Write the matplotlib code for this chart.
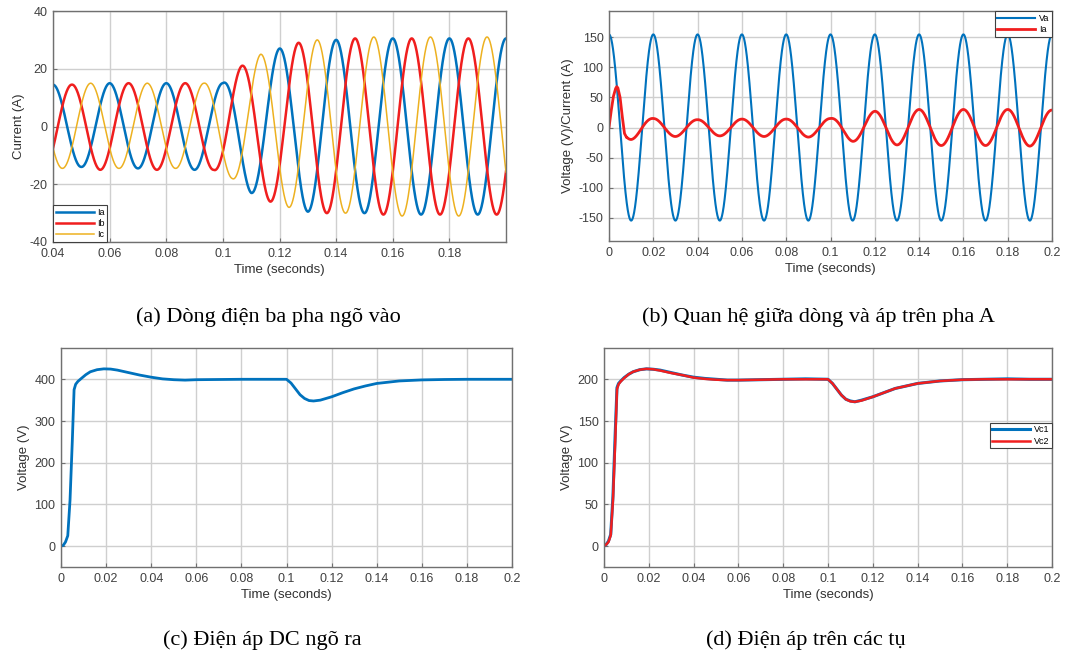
import numpy as np
import matplotlib
matplotlib.use("Agg")
import matplotlib.pyplot as plt

F = 50.0  # grid frequency (Hz)

# (a) three phase input currents: half-cycle peak values
ia_peak_t = [0.04, 0.05, 0.06, 0.07, 0.08, 0.09, 0.10, 0.11, 0.12, 0.13, 0.14, 0.15, 0.16, 0.17, 0.18, 0.19, 0.20]
ia_peak_v = [14.5, -14, 15, -14.5, 15, -15, 15, -23, 27, -29.5, 30, -30, 30.5, -30.5, 30.5, -30.5, 30.5]
ib_peak_t = [0.0367, 0.0467, 0.0567, 0.0667, 0.0767, 0.0867, 0.0967, 0.1067, 0.1167, 0.1267, 0.1367,
             0.1467, 0.1567, 0.1667, 0.1767, 0.1867, 0.1967, 0.2067]
ib_peak_v = [-15, 14.5, -15, 15, -15, 15, -15, 21, -26, 29, -30, 30.5, -30.5, 30.5, -30.5, 30.5, -30.5, 30.5]
ic_peak_t = [0.0433, 0.0533, 0.0633, 0.0733, 0.0833, 0.0933, 0.1033, 0.1133, 0.1233, 0.1333, 0.1433,
             0.1533, 0.1633, 0.1733, 0.1833, 0.1933, 0.2033]
ic_peak_v = [-14.5, 15, -14.5, 15, -14.5, 15, -18, 25, -28, 30, -30, 31, -31, 31, -31, 31, -31]

# (b) phase A voltage and current
va_peak_t = [0.0, 0.2]
va_peak_v = [155, 155]
ia_start_t = [0.0, 0.001, 0.002, 0.003, 0.0035, 0.004, 0.005, 0.006, 0.007, 0.008]
ia_start_v = [0, 28, 52, 65, 68, 66, 50, 18, -10, -17]
iab_peak_t = [0.01, 0.02, 0.03, 0.04, 0.05, 0.06, 0.07, 0.08, 0.09, 0.10, 0.11, 0.12, 0.13, 0.14, 0.15,
              0.16, 0.17, 0.18, 0.19, 0.20]
iab_peak_v = [-20, 15, -15, 13, -14, 14, -15, 14, -16, 15, -23, 27, -29, 30, -30, 30, -30, 30, -31, 29]

# (c) DC output voltage
vdc_t = [0, 0.001, 0.002, 0.003, 0.004, 0.005, 0.0058, 0.0065, 0.0075, 0.009, 0.011, 0.013, 0.016, 0.019,
         0.022, 0.025, 0.03, 0.035, 0.04, 0.045, 0.05, 0.055, 0.06, 0.07, 0.08, 0.09, 0.1, 0.102, 0.104,
         0.106, 0.108, 0.11, 0.112, 0.115, 0.12, 0.125, 0.13, 0.135, 0.14, 0.145, 0.15, 0.16, 0.17, 0.18,
         0.19, 0.2]
vdc_v = [0, 2, 10, 25, 110, 250, 375, 388, 395, 402, 411, 418, 423, 425, 424.5, 422, 416, 410, 405, 401,
         399, 398, 399, 399.5, 400, 400, 400, 391, 377, 363, 354, 349, 348, 350, 358, 368, 377, 384, 390,
         393, 396, 398.5, 399.5, 400, 400, 400]

# (d) capacitor voltages
vc_t = [0, 0.001, 0.002, 0.003, 0.004, 0.005, 0.0058, 0.0065, 0.0075, 0.009, 0.011, 0.013, 0.016, 0.019,
        0.022, 0.025, 0.03, 0.035, 0.04, 0.045, 0.05, 0.055, 0.06, 0.07, 0.08, 0.09, 0.1, 0.102, 0.104,
        0.106, 0.108, 0.11, 0.112, 0.115, 0.12, 0.125, 0.13, 0.135, 0.14, 0.145, 0.15, 0.16, 0.17, 0.18,
        0.19, 0.2]
vc1_v = [0, 2, 6, 14, 60, 135, 190, 195, 198, 202, 206, 209, 211.5, 212.5, 212, 211, 208, 205, 202.5, 201,
         200, 199, 199, 199.5, 200, 200.5, 200, 195, 188, 181, 176, 174, 173, 175, 179, 184, 189, 192, 195,
         196.5, 198, 199.5, 200, 200.5, 200, 200]
vc2_v = [0, 2, 5, 13, 55, 125, 188, 194, 197.5, 201.5, 206, 209, 211.5, 212.5, 212, 210.5, 207.5, 205, 202,
         200.5, 199.5, 199, 199, 199.5, 200, 200, 200, 195, 188, 181, 176, 173.5, 173, 174.5, 179, 184, 189,
         192, 195, 196.5, 198, 199.5, 200, 200, 200, 200]

captions = ["(a) Dòng điện ba pha ngõ vào", "(b) Quan hệ giữa dòng và áp trên pha A",
            "(c) Điện áp DC ngõ ra", "(d) Điện áp trên các tụ"]
xt_a = [0.04, 0.06, 0.08, 0.1, 0.12, 0.14, 0.16, 0.18]
xt_full = [0, 0.02, 0.04, 0.06, 0.08, 0.1, 0.12, 0.14, 0.16, 0.18, 0.2]

BLUE = "#0072BD"
RED = "#F01E1E"
YELLOW = "#EDB120"
TXT = "#404040"


def wave(t, peak_t, peak_v):
    # sinusoid whose half-cycle peaks follow the values
    env = np.interp(t, peak_t, np.abs(peak_v))
    sign = np.sign(peak_v[0])
    return sign * env * np.cos(2 * np.pi * F * (t - peak_t[0]))


def style(ax, xticks, yticks, xlim, ylim, ylabel):
    ax.set_xlim(xlim)
    ax.set_ylim(ylim)
    ax.set_xticks(xticks)
    ax.set_xticklabels([f"{v:g}" for v in xticks])
    ax.set_yticks(yticks)
    ax.grid(True, color="#cfcfcf", lw=1)
    ax.set_axisbelow(True)
    for s in ax.spines.values():
        s.set_color("#707070")
        s.set_linewidth(1)
    ax.tick_params(direction="in", length=3, color="#707070", labelsize=9, labelcolor=TXT, pad=4)
    ax.set_xlabel("Time (seconds)", fontsize=9.5, color="#303030", labelpad=3)
    ax.set_ylabel(ylabel, fontsize=9.5, color="#303030", labelpad=3)


def legend(ax, **kw):
    leg = ax.legend(fontsize=6.5, frameon=True, fancybox=False, framealpha=1, edgecolor="#404040",
                    borderaxespad=0, labelspacing=0.25, borderpad=0.3, handletextpad=0.4, **kw)
    leg.get_frame().set_linewidth(0.8)


plt.rcParams["font.family"] = ["Liberation Sans", "DejaVu Sans"]
plt.rcParams["axes.unicode_minus"] = False
W, H = 1092, 657
fig = plt.figure(figsize=(W / 100, H / 100), dpi=100, facecolor="white")


def add_ax(l, r, t, b):
    return fig.add_axes([l / W, 1 - b / H, (r - l) / W, (b - t) / H])


# (a)
ax = add_ax(53, 506, 11, 242)
ta = np.linspace(0.04, 0.2, 3000)
ax.plot(ta, wave(ta, ia_peak_t, ia_peak_v), color=BLUE, lw=1.8, label="Ia")
ax.plot(ta, wave(ta, ib_peak_t, ib_peak_v), color=RED, lw=1.8, label="Ib")
ax.plot(ta, wave(ta, ic_peak_t, ic_peak_v), color=YELLOW, lw=1.1, label="Ic")
style(ax, xt_a, [-40, -20, 0, 20, 40], (0.04, 0.2), (-40, 40), "Current (A)")
legend(ax, loc="lower left", handlelength=4.2)

# (b)
ax = add_ax(609, 1052, 11, 241)
tb = np.linspace(0, 0.2, 4000)
ax.plot(tb, wave(tb, va_peak_t, va_peak_v), color=BLUE, lw=1.5, label="Va")
t_run = tb[tb >= ia_start_t[-1]]
t_ib = np.concatenate([ia_start_t, t_run[1:]])
i_ib = np.concatenate([ia_start_v, wave(t_run[1:], iab_peak_t, iab_peak_v)])
ax.plot(t_ib, i_ib, color=RED, lw=2.0, label="Ia")
style(ax, xt_full, [-150, -100, -50, 0, 50, 100, 150], (0, 0.2), (-189, 194), "Voltage (V)/Current (A)")
legend(ax, loc="upper right", handlelength=4.2)

# (c)
ax = add_ax(61, 512, 348, 567)
ax.plot(vdc_t, vdc_v, color=BLUE, lw=2.0)
style(ax, xt_full, [0, 100, 200, 300, 400], (0, 0.2), (-50, 475), "Voltage (V)")

# (d)
ax = add_ax(604, 1052, 348, 567)
ax.plot(vc_t, vc1_v, color=BLUE, lw=2.2, label="Vc1")
ax.plot(vc_t, vc2_v, color=RED, lw=1.8, label="Vc2")
style(ax, xt_full, [0, 50, 100, 150, 200], (0, 0.2), (-25, 237.5), "Voltage (V)")
legend(ax, loc="center right", bbox_to_anchor=(1.0, 0.6), handlelength=4.2)

# captions
cap_pos = [(268, 317), (818, 317), (262, 640), (806, 640)]
for (cx, cy), text in zip(cap_pos, captions):
    fig.text(cx / W, 1 - cy / H, text, ha="center", va="center", fontsize=16,
             family=["Liberation Serif", "DejaVu Serif"], color="black")

fig.savefig("out.png", dpi=100, facecolor="white")
